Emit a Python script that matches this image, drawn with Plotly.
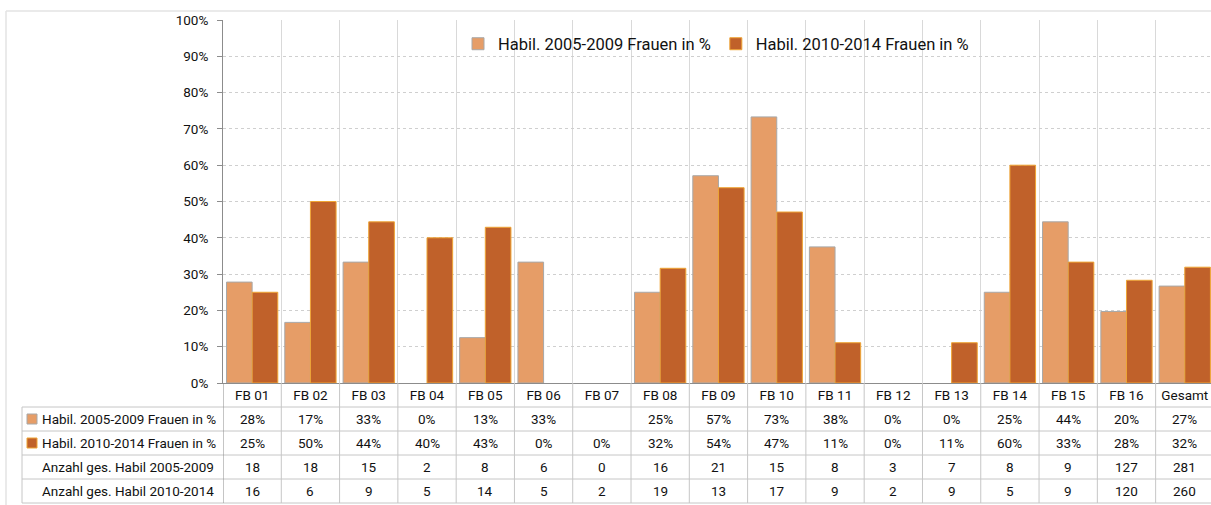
import math
import plotly.graph_objects as go

categories = ["FB 01", "FB 02", "FB 03", "FB 04", "FB 05", "FB 06", "FB 07", "FB 08",
              "FB 09", "FB 10", "FB 11", "FB 12", "FB 13", "FB 14", "FB 15", "FB 16", "Gesamt"]
share_2005_2009 = [27.8, 16.7, 33.3, 0, 12.5, 33.3, None, 25.0, 57.1, 73.3, 37.5, 0, 0, 25.0, 44.4, 19.7, 26.7]
share_2010_2014 = [25.0, 50.0, 44.4, 40.0, 42.9, 0, 0, 31.6, 53.8, 47.1, 11.1, 0, 11.1, 60.0, 33.3, 28.3, 31.9]
count_2005_2009 = [18, 18, 15, 2, 8, 6, 0, 16, 21, 15, 8, 3, 7, 8, 9, 127, 281]
count_2010_2014 = [16, 6, 9, 5, 14, 5, 2, 19, 13, 17, 9, 2, 9, 5, 9, 120, 260]
name_a = "Habil. 2005-2009 Frauen in %"
name_b = "Habil. 2010-2014 Frauen in %"
row_c = "Anzahl ges. Habil 2005-2009"
row_d = "Anzahl ges. Habil 2010-2014"

W, H = 1211, 505
L, R, T, B = 223, 0, 20, 122
PW, PH = W - L - R, H - T - B
FONT = "Roboto, sans-serif"
C_A, C_A_LINE = "#E69D67", "#A8A8A8"
C_B, C_B_LINE = "#C0612A", "#EFA535"
TXT = "#111111"
GRID = "#d9d9d9"
TABLE = "#c6c6c6"
FS = 13.5


def px(xp):
    return (xp - L) / PW


def py(yp):
    return (H - B - yp) / PH


def widths(vals):
    return [0 if (v is None or v == 0) else 1 for v in vals]


fig = go.Figure()
fig.add_trace(go.Bar(x=categories, y=share_2005_2009, name=name_a,
                     marker=dict(color=C_A, line=dict(color=C_A_LINE, width=widths(share_2005_2009)))))
fig.add_trace(go.Bar(x=categories, y=share_2010_2014, name=name_b,
                     marker=dict(color=C_B, line=dict(color=C_B_LINE, width=widths(share_2010_2014)))))

n = len(categories)
shapes = []
# chart border (top / left)
shapes.append(dict(type="line", xref="paper", yref="paper", x0=px(6), x1=1.0, y0=py(11), y1=py(11),
                   line=dict(color="#e3e3e3", width=1.5)))
shapes.append(dict(type="line", xref="paper", yref="paper", x0=px(6), x1=px(6), y0=py(11), y1=py(506),
                   line=dict(color="#e3e3e3", width=1.5)))
# table horizontal lines
row_lines = [407, 431, 455, 479, 503]
for yl in row_lines:
    shapes.append(dict(type="line", xref="paper", yref="paper", x0=px(22), x1=1.0, y0=py(yl), y1=py(yl),
                       line=dict(color=TABLE, width=1)))
shapes.append(dict(type="line", xref="paper", yref="paper", x0=px(22), x1=px(22), y0=py(407), y1=py(503),
                   line=dict(color=TABLE, width=1)))
# table vertical lines at category boundaries
for i in range(n + 1):
    shapes.append(dict(type="line", xref="x", yref="paper", x0=i - 0.5, x1=i - 0.5, y0=py(383), y1=py(503),
                       line=dict(color=TABLE if i > 0 else "#8c8c8c", width=1)))

# legend keys in the table
row_centers = [419, 443, 467, 491]
for rc, fc, lc in [(row_centers[0], C_A, C_A_LINE), (row_centers[1], C_B, C_B_LINE)]:
    shapes.append(dict(type="rect", xref="paper", yref="paper", x0=px(27), x1=px(37),
                       y0=py(rc + 5), y1=py(rc - 5), fillcolor=fc, line=dict(color=lc, width=1)))

annotations = []
for rc, label in zip(row_centers, [name_a, name_b, row_c, row_d]):
    annotations.append(dict(xref="paper", yref="paper", x=px(40), y=py(rc), text=label, showarrow=False,
                            xanchor="left", yanchor="middle", font=dict(family=FONT, size=FS, color=TXT)))


def pct(v):
    return "" if v is None else f"{math.floor(v + 0.5)}%"


rows = [[pct(v) for v in share_2005_2009], [pct(v) for v in share_2010_2014],
        [str(v) for v in count_2005_2009], [str(v) for v in count_2010_2014]]
for rc, vals in zip(row_centers, rows):
    for c, t in zip(categories, vals):
        annotations.append(dict(xref="x", yref="paper", x=c, y=py(rc), text=t, showarrow=False,
                                xanchor="center", yanchor="middle", font=dict(family=FONT, size=FS, color=TXT)))

fig.update_layout(
    width=W, height=H,
    margin=dict(l=L, r=R, t=T, b=B, autoexpand=False),
    paper_bgcolor="white", plot_bgcolor="white",
    barmode="group", bargap=0.12, bargroupgap=0,
    font=dict(family=FONT, size=FS, color=TXT),
    showlegend=True,
    legend=dict(orientation="h", x=px(458), y=py(44), xanchor="left", yanchor="middle",
                bgcolor="rgba(0,0,0,0)", font=dict(family=FONT, size=16.5, color=TXT),
                itemwidth=30, tracegroupgap=0),
    xaxis=dict(type="category", range=[-0.5, 16.45], tickson="boundaries", showgrid=True,
               gridcolor=GRID, gridwidth=1, ticks="",
               showline=True, linecolor="#8c8c8c", linewidth=1,
               tickfont=dict(family=FONT, size=FS, color=TXT)),
    yaxis=dict(range=[0, 100], dtick=10, ticksuffix="%", showgrid=True, gridcolor="#cfcfcf",
               griddash="dot", gridwidth=1, zeroline=False, showline=True, linecolor="#8c8c8c",
               linewidth=1, ticks="outside", ticklen=5, tickcolor="#8c8c8c", ticklabelstandoff=6,
               tickfont=dict(family=FONT, size=FS, color=TXT)),
    shapes=shapes, annotations=annotations,
)

fig.write_html("out.html", config={"displayModeBar": False},
               post_script="document.documentElement.style.overflow='hidden';"
                           "document.body.style.margin='0px';document.body.style.overflow='hidden';")
